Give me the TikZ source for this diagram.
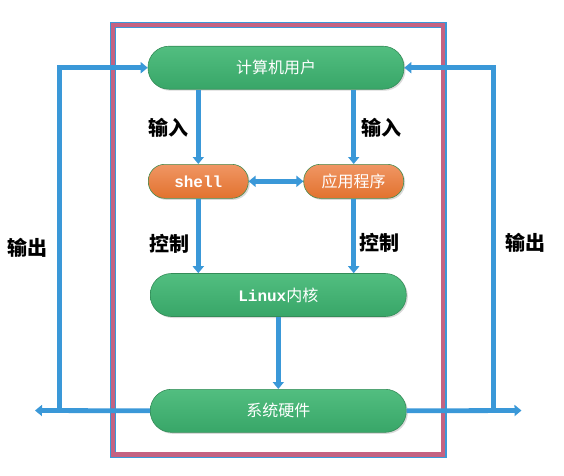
\documentclass[tikz,border=0pt]{standalone}
\usepackage{fontspec}
\usepackage{tikz}
\usetikzlibrary{arrows.meta,shadows}
\newfontfamily\cjk{Noto Sans CJK SC}
\newfontfamily\latn{Liberation Mono}
\definecolor{xblue}{RGB}{58,152,216}
\definecolor{xpink}{RGB}{196,98,130}
\definecolor{xgreentop}{RGB}{82,190,128}
\definecolor{xgreenbot}{RGB}{56,166,104}
\definecolor{xgreenline}{RGB}{52,140,88}
\definecolor{xorangetop}{RGB}{240,150,100}
\definecolor{xorangebot}{RGB}{226,114,46}
\definecolor{xorangeline}{RGB}{70,140,80}

\begin{document}
\begin{tikzpicture}[x=1pt,y=-1pt,>={Triangle[width=11pt,length=7pt]}]
\tikzset{layer/.style={rounded corners=21pt,minimum width=256pt,minimum height=43pt,inner sep=0pt,
  top color=xgreentop,bottom color=xgreenbot,draw=xgreenline,line width=0.6pt,text=white,
  font=\cjk\fontsize{16}{19}\selectfont,
  drop shadow={shadow xshift=1.5pt,shadow yshift=-1.5pt,opacity=0.3,fill=gray}}}
\tikzset{prog/.style={rounded corners=16.5pt,minimum width=100pt,minimum height=34pt,inner sep=0pt,
  top color=xorangetop,bottom color=xorangebot,draw=xorangeline,line width=0.6pt,text=white,
  font=\cjk\fontsize{16}{19}\selectfont,
  drop shadow={shadow xshift=1.5pt,shadow yshift=-1.5pt,opacity=0.3,fill=gray}}}
\tikzset{lbl/.style={font=\cjk\bfseries\fontsize{20}{23}\selectfont,text=black}}
\tikzset{flow/.style={->,draw=xblue,line width=4.8pt}}
\useasboundingbox (0,0) rectangle (564,475);
% frame
\draw[xblue,line width=6pt] (113.4,25.2) rectangle (443.9,455.1);
\draw[xpink,line width=4.3pt] (112.9,24.7) rectangle (443.2,454.6);
% layers
\node[layer] at (276,67.7) (user) {计算机用户};
\node[prog] at (198.3,181.3) (shell) {\latn\bfseries shell};
\node[prog] at (353.7,181.3) (app) {应用程序};
\node[layer] at (278.3,295) (kernel) {{\latn\bfseries Linux}内核};
\node[layer] at (278.3,410.8) (hw) {系统硬件};
% labels
\node[lbl] at (168,128) (in1) {输入};
\node[lbl] at (381,128) (in2) {输入};
\node[lbl] at (169,244) (ctl1) {控制};
\node[lbl] at (379,243) (ctl2) {控制};
\node[lbl] at (27.5,248) (out1) {输出};
\node[lbl] at (525,243) (out2) {输出};
\coordinate (outL) at (35,410.5);
\coordinate (outR) at (521.5,410.5);
\coordinate (turnL) at (59.5,410.5);
\coordinate (turnR) at (493.3,410.5);
% connectors
\draw[flow] (user.south -| shell) -- (shell.north);
\draw[flow] (user.south -| app) -- (app.north);
\draw[flow,<->] (shell) -- (app);
\draw[flow] (shell.south) -- (shell |- kernel.north);
\draw[flow] (app.south) -- (app |- kernel.north);
\draw[flow] (kernel) -- (hw);
\draw[flow] (hw.west) -- (outL);
\draw[flow] (hw.east) -- (outR);
\draw[flow] (turnL) |- (user.west);
\draw[flow] (turnR) |- (user.east);
\end{tikzpicture}
\end{document}
